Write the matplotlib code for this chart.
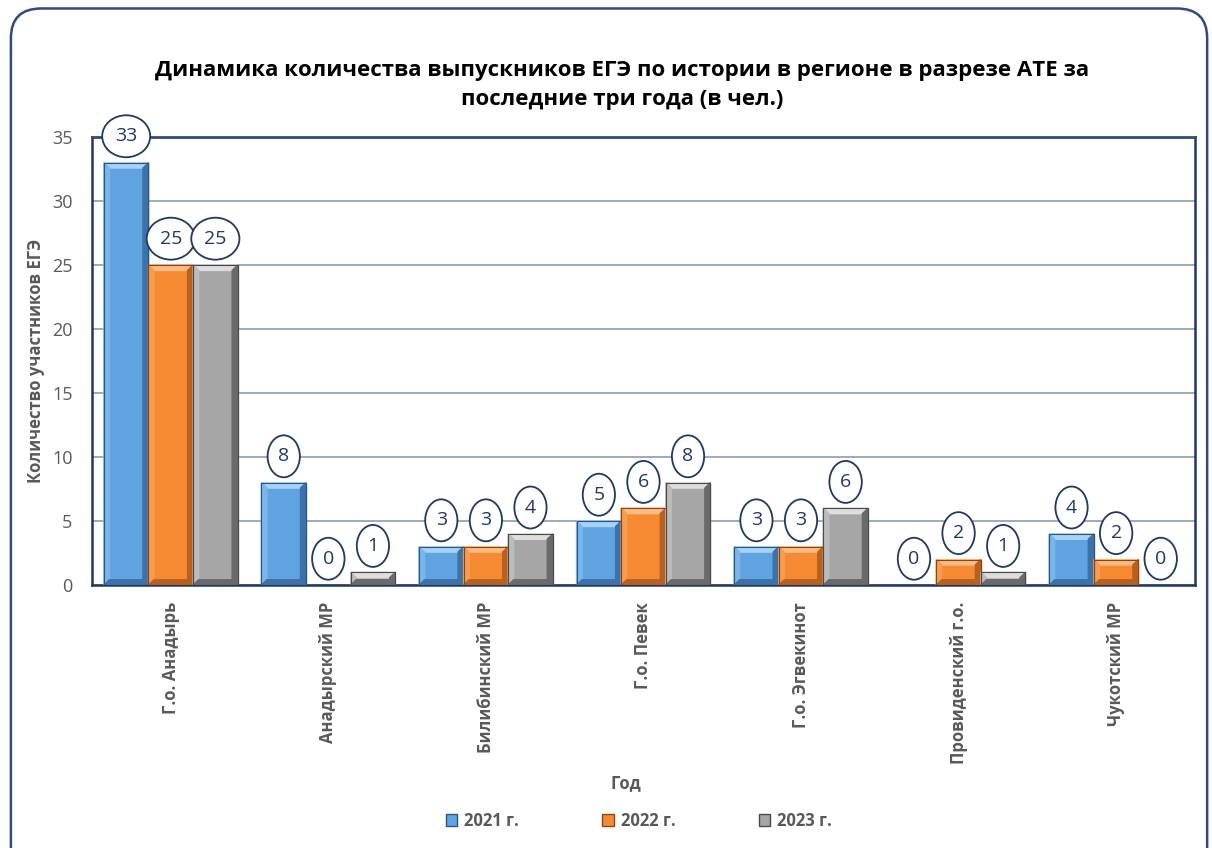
import matplotlib.pyplot as plt
import numpy as np
from matplotlib.patches import FancyBboxPatch, Patch

plt.rcParams['font.family'] = ['Open Sans', 'DejaVu Sans']

categories = ['Г.о. Анадырь', 'Анадырский МР', 'Билибинский МР', 'Г.о. Певек',
              'Г.о. Эгвекинот', 'Провиденский г.о.', 'Чукотский МР']
years = ['2021 г.', '2022 г.', '2023 г.']
v2021 = [33, 8, 3, 5, 3, 0, 4]
v2022 = [25, 0, 3, 6, 3, 2, 2]
v2023 = [25, 1, 4, 8, 6, 1, 0]
series = [v2021, v2022, v2023]

# main, top bevel, left bevel, right/bottom shade, edge
palette = [
    ('#5fa3e0', '#a8d2f5', '#7ab6ea', '#3d72a8', '#2c5680'),
    ('#f58a33', '#fcbc83', '#f79d52', '#b8611f', '#8a4515'),
    ('#a6a6a6', '#dedede', '#bcbcbc', '#6a6a6a', '#4a4a4a'),
]

navy = '#1f3864'
grid_c = '#8a9bbd'
txt = '#595959'

fig = plt.figure(figsize=(12.12, 8.48), dpi=100)
frame = FancyBboxPatch((0.009, -0.05), 0.987, 1.04, boxstyle='round,pad=0,rounding_size=0.025',
                       transform=fig.transFigure, fill=False, edgecolor='#2f4b7c', linewidth=1.8,
                       mutation_aspect=1.4)
fig.patches.append(frame)

ax = fig.add_axes([0.0759, 0.310, 0.910, 0.5284])
ax.set_xlim(-0.5, len(categories) - 0.5)
ax.set_ylim(0, 35)

x = np.arange(len(categories))
w = 0.283
bx = 0.035   # bevel size in x units
by = 0.42    # bevel size in y units
for i, vals in enumerate(series):
    main, top, left, shade, edge = palette[i]
    pos = x + (i - 1) * w
    for p, v in zip(pos, vals):
        if v > 0:
            l, r = p - w / 2, p + w / 2
            ax.fill([l, r, r, l], [0, 0, v, v], color=main, zorder=3)
            ax.fill([l, r, r - bx, l + bx], [v, v, v - by, v - by], color=top, zorder=4)
            ax.fill([l, l + bx, l + bx, l], [v, v - by, by, 0], color=left, zorder=4)
            ax.fill([r, r - bx, r - bx, r], [v, v - by, by, 0], color=shade, zorder=4)
            ax.fill([l, r, r - bx, l + bx], [0, 0, by, by], color=shade, zorder=4)
            ax.plot([l, r, r, l, l], [0, 0, v, v, 0], color=edge, lw=0.8, zorder=5)
        ax.annotate(str(v), (p, v), xytext=(0, 19), textcoords='offset points',
                    ha='center', va='center', fontsize=14, color=navy, zorder=6,
                    bbox=dict(boxstyle='ellipse,pad=0.3', fc='white', ec=navy, lw=1.3))

ax.set_yticks(range(0, 36, 5))
ax.yaxis.grid(True, color=grid_c, linewidth=1.2, zorder=0)
ax.set_axisbelow(True)
for s in ['left', 'bottom', 'right']:
    ax.spines[s].set_color(navy)
    ax.spines[s].set_linewidth(1.8)
ax.spines['top'].set_color('#2f4b7c')
ax.spines['top'].set_linewidth(2)
ax.tick_params(axis='y', length=0, labelsize=13, labelcolor=txt, pad=14)
ax.tick_params(axis='x', length=0, pad=12)
ax.set_xticks(x)
ax.set_xticklabels(categories, rotation=90, fontsize=12, fontweight='bold', color=txt)

ax.set_ylabel('Количество участников ЕГЭ', fontsize=12, fontweight='bold', color=txt, labelpad=5)
fig.text(0.5165, 0.077, 'Год', ha='center', va='center', fontsize=12,
         fontweight='bold', color=txt)

fig.text(0.513, 0.900, 'Динамика количества выпускников ЕГЭ по истории в регионе в разрезе АТЕ за\nпоследние три года (в чел.)',
         ha='center', va='center', fontsize=16, fontweight='bold', color='black', linespacing=1.5)

handles = [Patch(facecolor=p[0], edgecolor=p[4]) for p in palette]
fig.legend(handles, years, loc='center', bbox_to_anchor=(0.527, 0.032), ncol=3, frameon=False,
           handlelength=0.7, handleheight=0.7, handletextpad=0.4, columnspacing=5.0,
           prop={'size': 12, 'weight': 'bold'}, labelcolor=txt)

fig.savefig('out.png', dpi=100)
